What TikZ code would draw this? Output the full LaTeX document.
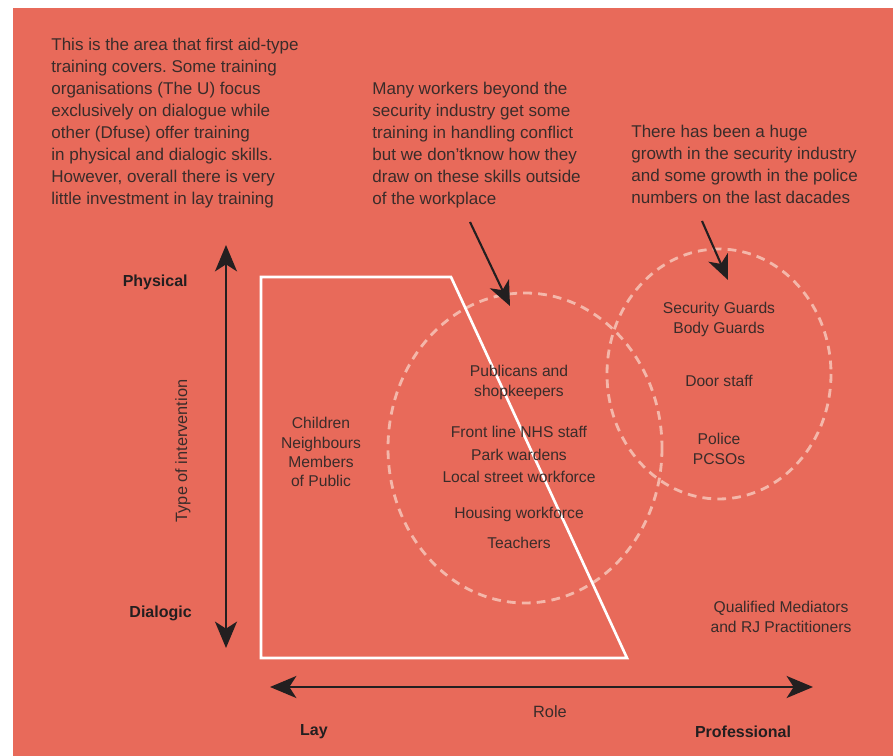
\documentclass[tikz,border=0pt]{standalone}
\usepackage{fontspec}
\setmainfont{Liberation Sans}
\usepackage{tikz}
\usetikzlibrary{arrows.meta}
\definecolor{PanelSalmon}{HTML}{E86A5A}
\definecolor{InkDark}{HTML}{3A2C2A}
\definecolor{InkBlack}{HTML}{231F20}
\definecolor{ZonePink}{HTML}{F4B7AA}
\frenchspacing
\tikzset{
  notetext/.style={anchor=north west, inner sep=0pt, align=left, text=InkDark, font=\fontsize{9.7}{12.5}\selectfont},
  grouptext/.style={inner sep=0pt, align=center, text=InkDark, font=\fontsize{8.9}{11}\selectfont},
  axistext/.style={inner sep=0pt, text=InkBlack, font=\fontsize{9.1}{11}\selectfont\bfseries},
  axisarrow/.style={{Stealth[length=15pt,width=12.5pt,inset=4pt]}-{Stealth[length=15pt,width=12.5pt,inset=4pt]}, line width=1.3pt, InkBlack},
  pointer/.style={-{Stealth[length=14pt,width=12pt,inset=4pt]}, line width=1.2pt, InkBlack},
  zone/.style={draw=ZonePink, line width=1.6pt, dash pattern=on 5pt off 3.5pt},
  trainbox/.style={draw=white, line width=1.5pt}
}

\begin{document}
\begin{tikzpicture}[x=0.02cm, y=-0.02cm]
  \useasboundingbox (0,0) rectangle (893,756);
  \fill[PanelSalmon] (13,8) rectangle (893,756);

  % dashed zones and the lay training area
  \draw[zone] (525,448) ellipse [x radius=137, y radius=155];
  \draw[zone] (719,374) ellipse [x radius=112, y radius=125];
  \draw[trainbox] (261,277) -- (451,277) -- (627,658) -- (261,658) -- cycle;

  % notes on top
  \node[notetext] (laynote) at (51,38) {This is the area that first aid-type\\training covers. Some training\\organisations (The U) focus\\exclusively on dialogue while\\other (Dfuse) offer training\\in physical and dialogic skills.\\However, overall there is very\\little investment in lay training};
  \node[notetext] (worknote) at (372,82) {Many workers beyond the\\security industry get some\\training in handling conflict\\but we don'tknow how they\\draw on these skills outside\\of the workplace};
  \node[notetext] (secnote) at (631,125) {There has been a huge\\growth in the security industry\\and some growth in the police\\numbers on the last dacades};

  \coordinate (worktail) at (470,222);
  \coordinate (worktip) at (510,306);
  \draw[pointer] (worktail) -- (worktip);
  \coordinate (sectail) at (702,221);
  \coordinate (sectip) at (728,280);
  \draw[pointer] (sectail) -- (sectip);

  % axes
  \coordinate (physend) at (226,245);
  \coordinate (dialend) at (226,648);
  \draw[axisarrow] (physend) -- (dialend);
  \coordinate (layend) at (270,687);
  \coordinate (proend) at (813,687);
  \draw[axisarrow] (layend) -- (proend);

  \node[axistext, anchor=east] (physical) at (188,282) {Physical};
  \node[axistext, anchor=east] (dialogic) at (192,613) {Dialogic};
  \node[grouptext, rotate=90, font=\fontsize{9.3}{11}\selectfont] (typeaxis) at (183,451) {Type of intervention};
  \node[axistext] (lay) at (314,732) {Lay};
  \node[axistext] (professional) at (743,732) {Professional};
  \node[grouptext, font=\fontsize{9.3}{11}\selectfont] (role) at (550,712) {Role};

  % groups
  \node[grouptext, anchor=north] (public) at (321,417) {Children\\Neighbours\\Members\\of Public};
  \node[grouptext, anchor=north] (publicans) at (519,365) {Publicans and\\shopkeepers};
  \node[grouptext, anchor=base] (nhs) at (519,438) {Front line NHS staff};
  \node[grouptext, anchor=base] (wardens) at (519,461) {Park wardens};
  \node[grouptext, anchor=base] (street) at (519,483) {Local street workforce};
  \node[grouptext, anchor=base] (housing) at (519,519) {Housing workforce};
  \node[grouptext, anchor=base] (teachers) at (519,549) {Teachers};
  \node[grouptext, anchor=north] (guards) at (719,302) {Security Guards\\Body Guards};
  \node[grouptext, anchor=base] (door) at (719,387) {Door staff};
  \node[grouptext, anchor=north] (police) at (719,433) {Police\\PCSOs};
  \node[grouptext, anchor=north] (mediators) at (781,601) {Qualified Mediators\\and RJ Practitioners};
\end{tikzpicture}
\end{document}
